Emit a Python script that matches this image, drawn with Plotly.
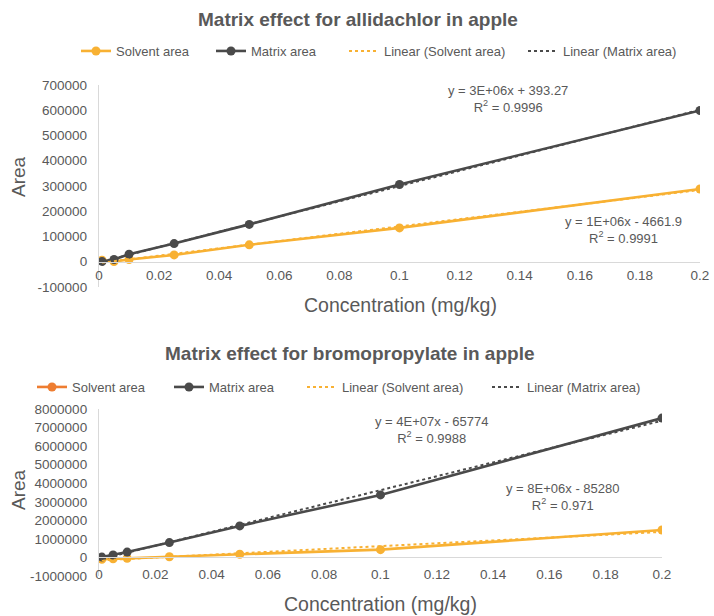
import numpy as np
import plotly.graph_objects as go

# ---------------- data ----------------
conc = [0.001, 0.005, 0.01, 0.025, 0.05, 0.1, 0.2]
allid_solvent = [6000, 1000, 9000, 27000, 67000, 134000, 288000]
allid_matrix = [1000, 9000, 30000, 72000, 148000, 306000, 599000]
bromo_solvent = [-100000, -70000, -50000, 40000, 170000, 420000, 1480000]
bromo_matrix = [20000, 130000, 290000, 800000, 1700000, 3370000, 7510000]

series_names = ["Solvent area", "Matrix area", "Linear (Solvent area)", "Linear (Matrix area)"]

x_tick_vals = [0, 0.02, 0.04, 0.06, 0.08, 0.1, 0.12, 0.14, 0.16, 0.18, 0.2]
x_tick_text = ["0", "0.02", "0.04", "0.06", "0.08", "0.1", "0.12", "0.14", "0.16", "0.18", "0.2"]
y1_tick_vals = [-100000, 0, 100000, 200000, 300000, 400000, 500000, 600000, 700000]
y1_tick_text = [str(v) for v in y1_tick_vals]
y2_tick_vals = [-1000000, 0, 1000000, 2000000, 3000000, 4000000, 5000000, 6000000, 7000000, 8000000]
y2_tick_text = [str(v) for v in y2_tick_vals]

title1 = "Matrix effect for allidachlor in apple"
title2 = "Matrix effect for bromopropylate in apple"
eq1_matrix = "y = 3E+06x + 393.27<br>R<sup>2</sup> = 0.9996"
eq1_solvent = "y = 1E+06x - 4661.9<br>R<sup>2</sup> = 0.9991"
eq2_matrix = "y = 4E+07x - 65774<br>R<sup>2</sup> = 0.9988"
eq2_solvent = "y = 8E+06x - 85280<br>R<sup>2</sup> = 0.971"

# ---------------- style ----------------
YELLOW = "#F8B133"
ORANGE = "#EE7D31"
DARK = "#4A4A4A"
TEXT = "#595959"
AXIS = "#D9D9D9"
FONT = "Liberation Sans, Arial, sans-serif"
W, H = 714, 616


def px_x(p):
    return p / W


def px_y(p):
    return 1 - p / H


def trend(xs, ys):
    k, b = np.polyfit(xs, ys, 1)
    xe = [min(xs), max(xs)]
    return xe, [k * v + b for v in xe]


fig = go.Figure()

line_w = 2.6
msize = 9

# legend entry placement (pixel x of text start), chart 1 then chart 2
leg1_text_x = [116, 251, 384, 563]
leg2_text_x = [72, 209, 342, 527]
leg1_y, leg2_y = 51, 387

# ---------- chart 1 ----------
fig.add_trace(go.Scatter(x=conc, y=allid_solvent, mode="lines+markers", name=series_names[0],
                         line=dict(color=YELLOW, width=line_w), marker=dict(color=YELLOW, size=msize),
                         xaxis="x", yaxis="y", legend="legend"))
fig.add_trace(go.Scatter(x=conc, y=allid_matrix, mode="lines+markers", name=series_names[1],
                         line=dict(color=DARK, width=line_w), marker=dict(color=DARK, size=msize),
                         xaxis="x", yaxis="y", legend="legend2"))
tx, ty = trend(conc, allid_solvent)
fig.add_trace(go.Scatter(x=tx, y=ty, mode="lines", name=series_names[2],
                         line=dict(color=YELLOW, width=2, dash="dot"),
                         xaxis="x", yaxis="y", legend="legend3"))
tx, ty = trend(conc, allid_matrix)
fig.add_trace(go.Scatter(x=tx, y=ty, mode="lines", name=series_names[3],
                         line=dict(color=DARK, width=2, dash="dot"),
                         xaxis="x", yaxis="y", legend="legend4"))

# ---------- chart 2 ----------
fig.add_trace(go.Scatter(x=[None], y=[None], mode="lines+markers", name=series_names[0],
                         line=dict(color=ORANGE, width=line_w), marker=dict(color=ORANGE, size=msize),
                         xaxis="x2", yaxis="y2", legend="legend5"))
fig.add_trace(go.Scatter(x=conc, y=bromo_solvent, mode="lines+markers", name=series_names[0],
                         line=dict(color=YELLOW, width=line_w), marker=dict(color=YELLOW, size=msize),
                         xaxis="x2", yaxis="y2", showlegend=False))
fig.add_trace(go.Scatter(x=conc, y=bromo_matrix, mode="lines+markers", name=series_names[1],
                         line=dict(color=DARK, width=line_w), marker=dict(color=DARK, size=msize),
                         xaxis="x2", yaxis="y2", legend="legend6"))
tx, ty = trend(conc, bromo_solvent)
fig.add_trace(go.Scatter(x=tx, y=ty, mode="lines", name=series_names[2],
                         line=dict(color=YELLOW, width=2, dash="dot"),
                         xaxis="x2", yaxis="y2", legend="legend7"))
tx, ty = trend(conc, bromo_matrix)
fig.add_trace(go.Scatter(x=tx, y=ty, mode="lines", name=series_names[3],
                         line=dict(color=DARK, width=2, dash="dot"),
                         xaxis="x2", yaxis="y2", legend="legend8"))

tickfont = dict(family=FONT, size=13.5, color=TEXT)

c1_left, c1_right, c1_top, c1_bot = 99, 700, 85, 287
c2_left, c2_right, c2_top, c2_bot = 99, 662, 409, 576


def zero_pos(top, bot, lo, hi):
    frac = (0 - lo) / (hi - lo)
    return px_y(bot) + frac * (px_y(top) - px_y(bot))


axis_common = dict(showline=True, linecolor=AXIS, linewidth=1.3, showgrid=False,
                   zeroline=False, ticks="", tickfont=tickfont, automargin=False)

layout = dict(
    template="none",
    width=W, height=H,
    margin=dict(l=0, r=0, t=0, b=0, pad=0),
    paper_bgcolor="white", plot_bgcolor="white",
    font=dict(family=FONT, color=TEXT),
    showlegend=True,
    xaxis=dict(domain=[px_x(c1_left), px_x(c1_right)], range=[0, 0.2],
               anchor="free", position=zero_pos(c1_top, c1_bot, -100000, 700000),
               tickvals=x_tick_vals, ticktext=x_tick_text, ticklabelstandoff=1, **axis_common),
    yaxis=dict(domain=[px_y(c1_bot), px_y(c1_top)], range=[-100000, 700000], anchor="x",
               tickvals=y1_tick_vals, ticktext=y1_tick_text, ticklabelstandoff=8, **axis_common),
    xaxis2=dict(domain=[px_x(c2_left), px_x(c2_right)], range=[0, 0.2],
                anchor="free", position=zero_pos(c2_top, c2_bot, -1000000, 8000000),
                tickvals=x_tick_vals, ticktext=x_tick_text, ticklabelstandoff=4, **axis_common),
    yaxis2=dict(domain=[px_y(c2_bot), px_y(c2_top)], range=[-1000000, 8000000], anchor="x2",
                tickvals=y2_tick_vals, ticktext=y2_tick_text, ticklabelstandoff=8, **axis_common),
)

legend_font = dict(family=FONT, size=13, color=TEXT)
for i, tx_ in enumerate(leg1_text_x + leg2_text_x):
    key = "legend" if i == 0 else f"legend{i + 1}"
    ly = leg1_y if i < 4 else leg2_y
    layout[key] = dict(orientation="h", x=px_x(tx_ - 40), xanchor="left",
                       y=px_y(ly), yanchor="middle", font=legend_font,
                       bgcolor="rgba(0,0,0,0)", borderwidth=0)

fig.update_layout(**layout)

ann = []


def add_text(text, x, y, size, bold=False, angle=0):
    ann.append(dict(text=f"<b>{text}</b>" if bold else text, x=px_x(x), y=px_y(y),
                    xref="paper", yref="paper", xanchor="center", yanchor="middle",
                    showarrow=False, textangle=angle,
                    font=dict(family=FONT, size=size, color=TEXT)))


add_text(title1, 358, 20, 19, bold=True)
add_text(title2, 350, 353, 19, bold=True)
add_text("Concentration (mg/kg)", 400, 305, 19.5)
add_text("Concentration (mg/kg)", 380, 604, 19.5)
add_text("Area", 18, 177, 19, angle=-90)
add_text("Area", 18, 490, 19, angle=-90)
add_text(eq1_matrix, 508, 99, 13)
add_text(eq1_solvent, 623, 230, 13)
add_text(eq2_matrix, 432, 430, 13)
add_text(eq2_solvent, 562, 497, 13)

fig.update_layout(annotations=ann)

fig.write_html("out.html", config={"displayModeBar": False},
               post_script="document.body.style.margin='0px';document.body.style.overflow='hidden';")
